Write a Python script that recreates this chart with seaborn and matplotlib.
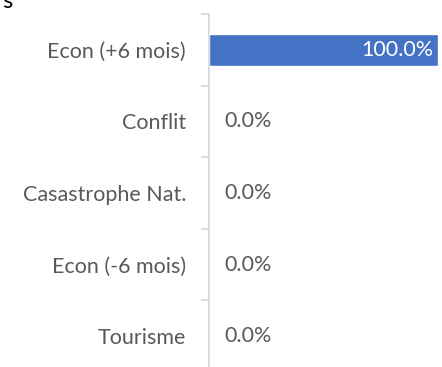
import matplotlib
matplotlib.use("Agg")
import matplotlib.pyplot as plt
import seaborn as sns
import pandas as pd
import numpy as np

categories = ["Econ (+6 mois)", "Conflit", "Casastrophe Nat.", "Econ (-6 mois)", "Tourisme"]
values = [100.0, 0.0, 0.0, 0.0, 0.0]
title_fragment = "s"

sns.set_theme(style="white")
plt.rcParams["font.family"] = ["Lato", "DejaVu Sans"]

TEXT = "#595959"
AXIS = "#D9D9D9"
BAR = "#4472C4"
FS = 15.5

df = pd.DataFrame({"cat": categories, "val": values})

fig = plt.figure(figsize=(4.42, 3.67), dpi=100)
ax = fig.add_axes([209 / 442, 1 - 372 / 367, (438 - 209) / 442, 358 / 367])

sns.barplot(data=df, y="cat", x="val", orient="h", color=BAR, width=0.45,
            saturation=1, ax=ax)

ax.set_xlim(0, 100)
ax.set_ylim(len(categories) - 0.5, -0.5)
ax.set_xlabel("")
ax.set_ylabel("")
ax.set_xticks([])

for s in ["top", "right", "bottom"]:
    ax.spines[s].set_visible(False)
ax.spines["left"].set_color(AXIS)
ax.spines["left"].set_linewidth(1.3)

ax.set_yticks(np.arange(len(categories)))
ax.set_yticklabels(categories)
ax.tick_params(axis="y", which="major", length=0, pad=16.5, labelsize=FS, labelcolor=TEXT)
ax.set_yticks(np.arange(-0.5, len(categories) + 0.5, 1.0), minor=True)
ax.tick_params(axis="y", which="minor", length=6, width=1.3, color=AXIS, left=True)

for i, v in enumerate(values):
    label = f"{v:.1f}%"
    if v > 20:
        ax.annotate(label, xy=(v, i), xytext=(-3, 0), textcoords="offset points",
                    ha="right", va="center", color="white", fontsize=FS)
    else:
        ax.annotate(label, xy=(v, i), xytext=(11, 0), textcoords="offset points",
                    ha="left", va="center", color=TEXT, fontsize=FS)

fig.text(2 / 442, 1 - 8 / 367, title_fragment, ha="left", va="baseline",
         fontsize=17, color="#000000")

fig.savefig("out.png", dpi=100)
